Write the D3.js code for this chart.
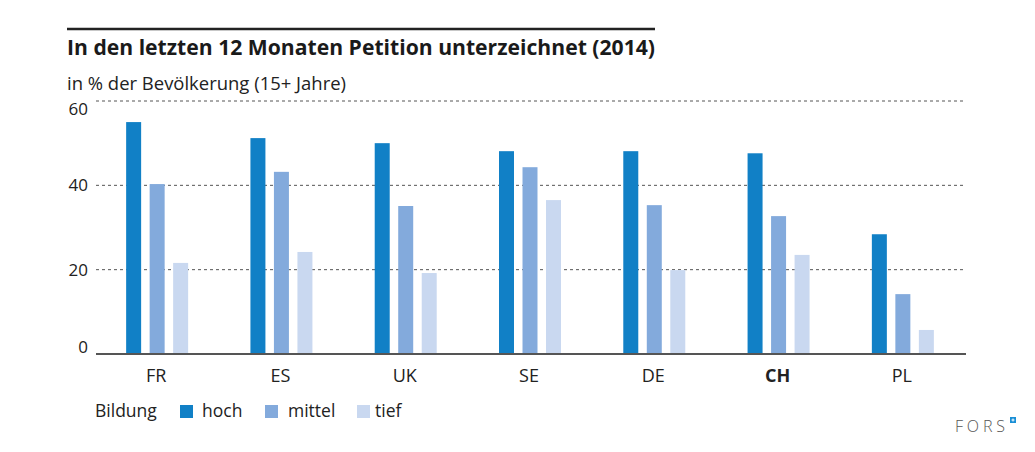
<!DOCTYPE html>
<html>
<head>
<meta charset="utf-8">
<script src="https://cdn.jsdelivr.net/npm/d3@7"></script>
<style>
  body { margin: 0; background: #fff; }
  svg { display: block; font-family: "Open Sans", "Noto Sans", sans-serif; }
</style>
</head>
<body>
<svg id="chart" width="1035" height="452"></svg>
<script>
// data
const countries = ["FR", "ES", "UK", "SE", "DE", "CH", "PL"];
const levels = ["hoch", "mittel", "tief"];
const hoch = [55.0, 51.2, 50.0, 48.1, 48.1, 47.6, 28.4];
const mittel = [40.3, 43.2, 35.1, 44.3, 35.3, 32.7, 14.2];
const tief = [21.6, 24.2, 19.2, 36.5, 19.9, 23.5, 5.7];
const yTicks = [0, 20, 40, 60];

const colors = { hoch: "#1180c6", mittel: "#83aadc", tief: "#c9d8f0" };
const series = { hoch: hoch, mittel: mittel, tief: tief };

const svg = d3.select("#chart");
const plotLeft = 96, plotRight = 966, plotTop = 101, plotBottom = 354;

// title block
svg.append("line")
  .attr("x1", 67).attr("x2", 655).attr("y1", 29).attr("y2", 29)
  .attr("stroke", "#222").attr("stroke-width", 2.5);
svg.append("text")
  .attr("x", 67).attr("y", 55)
  .attr("font-size", 21).attr("font-weight", "bold").attr("fill", "#1a1a1a")
  .attr("textLength", 588).attr("lengthAdjust", "spacingAndGlyphs")
  .text("In den letzten 12 Monaten Petition unterzeichnet (2014)");
svg.append("text")
  .attr("x", 67).attr("y", 90)
  .attr("font-size", 18).attr("fill", "#222")
  .attr("textLength", 279).attr("lengthAdjust", "spacingAndGlyphs")
  .text("in % der Bevölkerung (15+ Jahre)");

const y = d3.scaleLinear().domain([0, 60]).range([plotBottom, plotTop]);
const x0 = d3.scaleBand().domain(countries).range([plotLeft, plotRight]);
const x1 = d3.scaleBand().domain(levels).range([-32, 30]).paddingInner(0.362);

// gridlines
svg.append("g").selectAll("line")
  .data(yTicks.filter(d => d > 0)).enter()
  .append("line")
  .attr("x1", plotLeft).attr("x2", plotRight)
  .attr("y1", d => y(d)).attr("y2", d => y(d))
  .attr("stroke", "#555").attr("stroke-width", 1)
  .attr("stroke-dasharray", "3,3");

// y labels, kept inside the plot height
svg.append("g").selectAll("text")
  .data(yTicks).enter()
  .append("text")
  .attr("x", 88)
  .attr("y", d => Math.min(Math.max(y(d) + 6, plotTop + 14), plotBottom - 1))
  .attr("text-anchor", "end")
  .attr("font-size", 17).attr("fill", "#222")
  .text(d => d);

// bars
const groups = svg.append("g").selectAll("g")
  .data(countries).enter()
  .append("g")
  .attr("transform", d => "translate(" + (x0(d) + x0.bandwidth() / 2) + ",0)");

groups.selectAll("rect")
  .data((c, i) => levels.map(l => ({ level: l, value: series[l][i] })))
  .enter()
  .append("rect")
  .attr("x", d => x1(d.level))
  .attr("width", x1.bandwidth())
  .attr("y", d => y(d.value))
  .attr("height", d => plotBottom - y(d.value))
  .attr("fill", d => colors[d.level]);

// baseline
svg.append("line")
  .attr("x1", plotLeft).attr("x2", plotRight).attr("y1", plotBottom).attr("y2", plotBottom)
  .attr("stroke", "#555").attr("stroke-width", 2);

// x labels
svg.append("g").selectAll("text")
  .data(countries).enter()
  .append("text")
  .attr("x", d => x0(d) + x0.bandwidth() / 2 - 2)
  .attr("y", 382)
  .attr("text-anchor", "middle")
  .attr("font-size", 18).attr("fill", "#222")
  .attr("font-weight", d => d === "CH" ? "bold" : "normal")
  .text(d => d);

// legend
const legend = svg.append("g").attr("transform", "translate(0,417)");
legend.append("text")
  .attr("x", 95).attr("y", 0)
  .attr("font-size", 17.5).attr("fill", "#222")
  .text("Bildung");
const legendBoxX = [180, 265, 357];
const legendTextX = [202, 288, 375];
levels.forEach((l, i) => {
  legend.append("rect")
    .attr("x", legendBoxX[i]).attr("y", -12)
    .attr("width", 13).attr("height", 13)
    .attr("fill", colors[l]);
  legend.append("text")
    .attr("x", legendTextX[i]).attr("y", 0)
    .attr("font-size", 17.5).attr("fill", "#222")
    .text(l);
});

// FORS logo
svg.append("text")
  .attr("x", 955).attr("y", 432)
  .attr("font-size", 16).attr("font-weight", 300).attr("fill", "#555")
  .attr("textLength", 50).attr("lengthAdjust", "spacing")
  .text("FORS");
svg.append("rect")
  .attr("x", 1010).attr("y", 417).attr("width", 6).attr("height", 6)
  .attr("fill", "#1a8fd6");
svg.append("path")
  .attr("d", "M1013,418.5V421.5M1011.5,420H1014.5")
  .attr("stroke", "#fff").attr("stroke-width", 1);
</script>
</body>
</html>
